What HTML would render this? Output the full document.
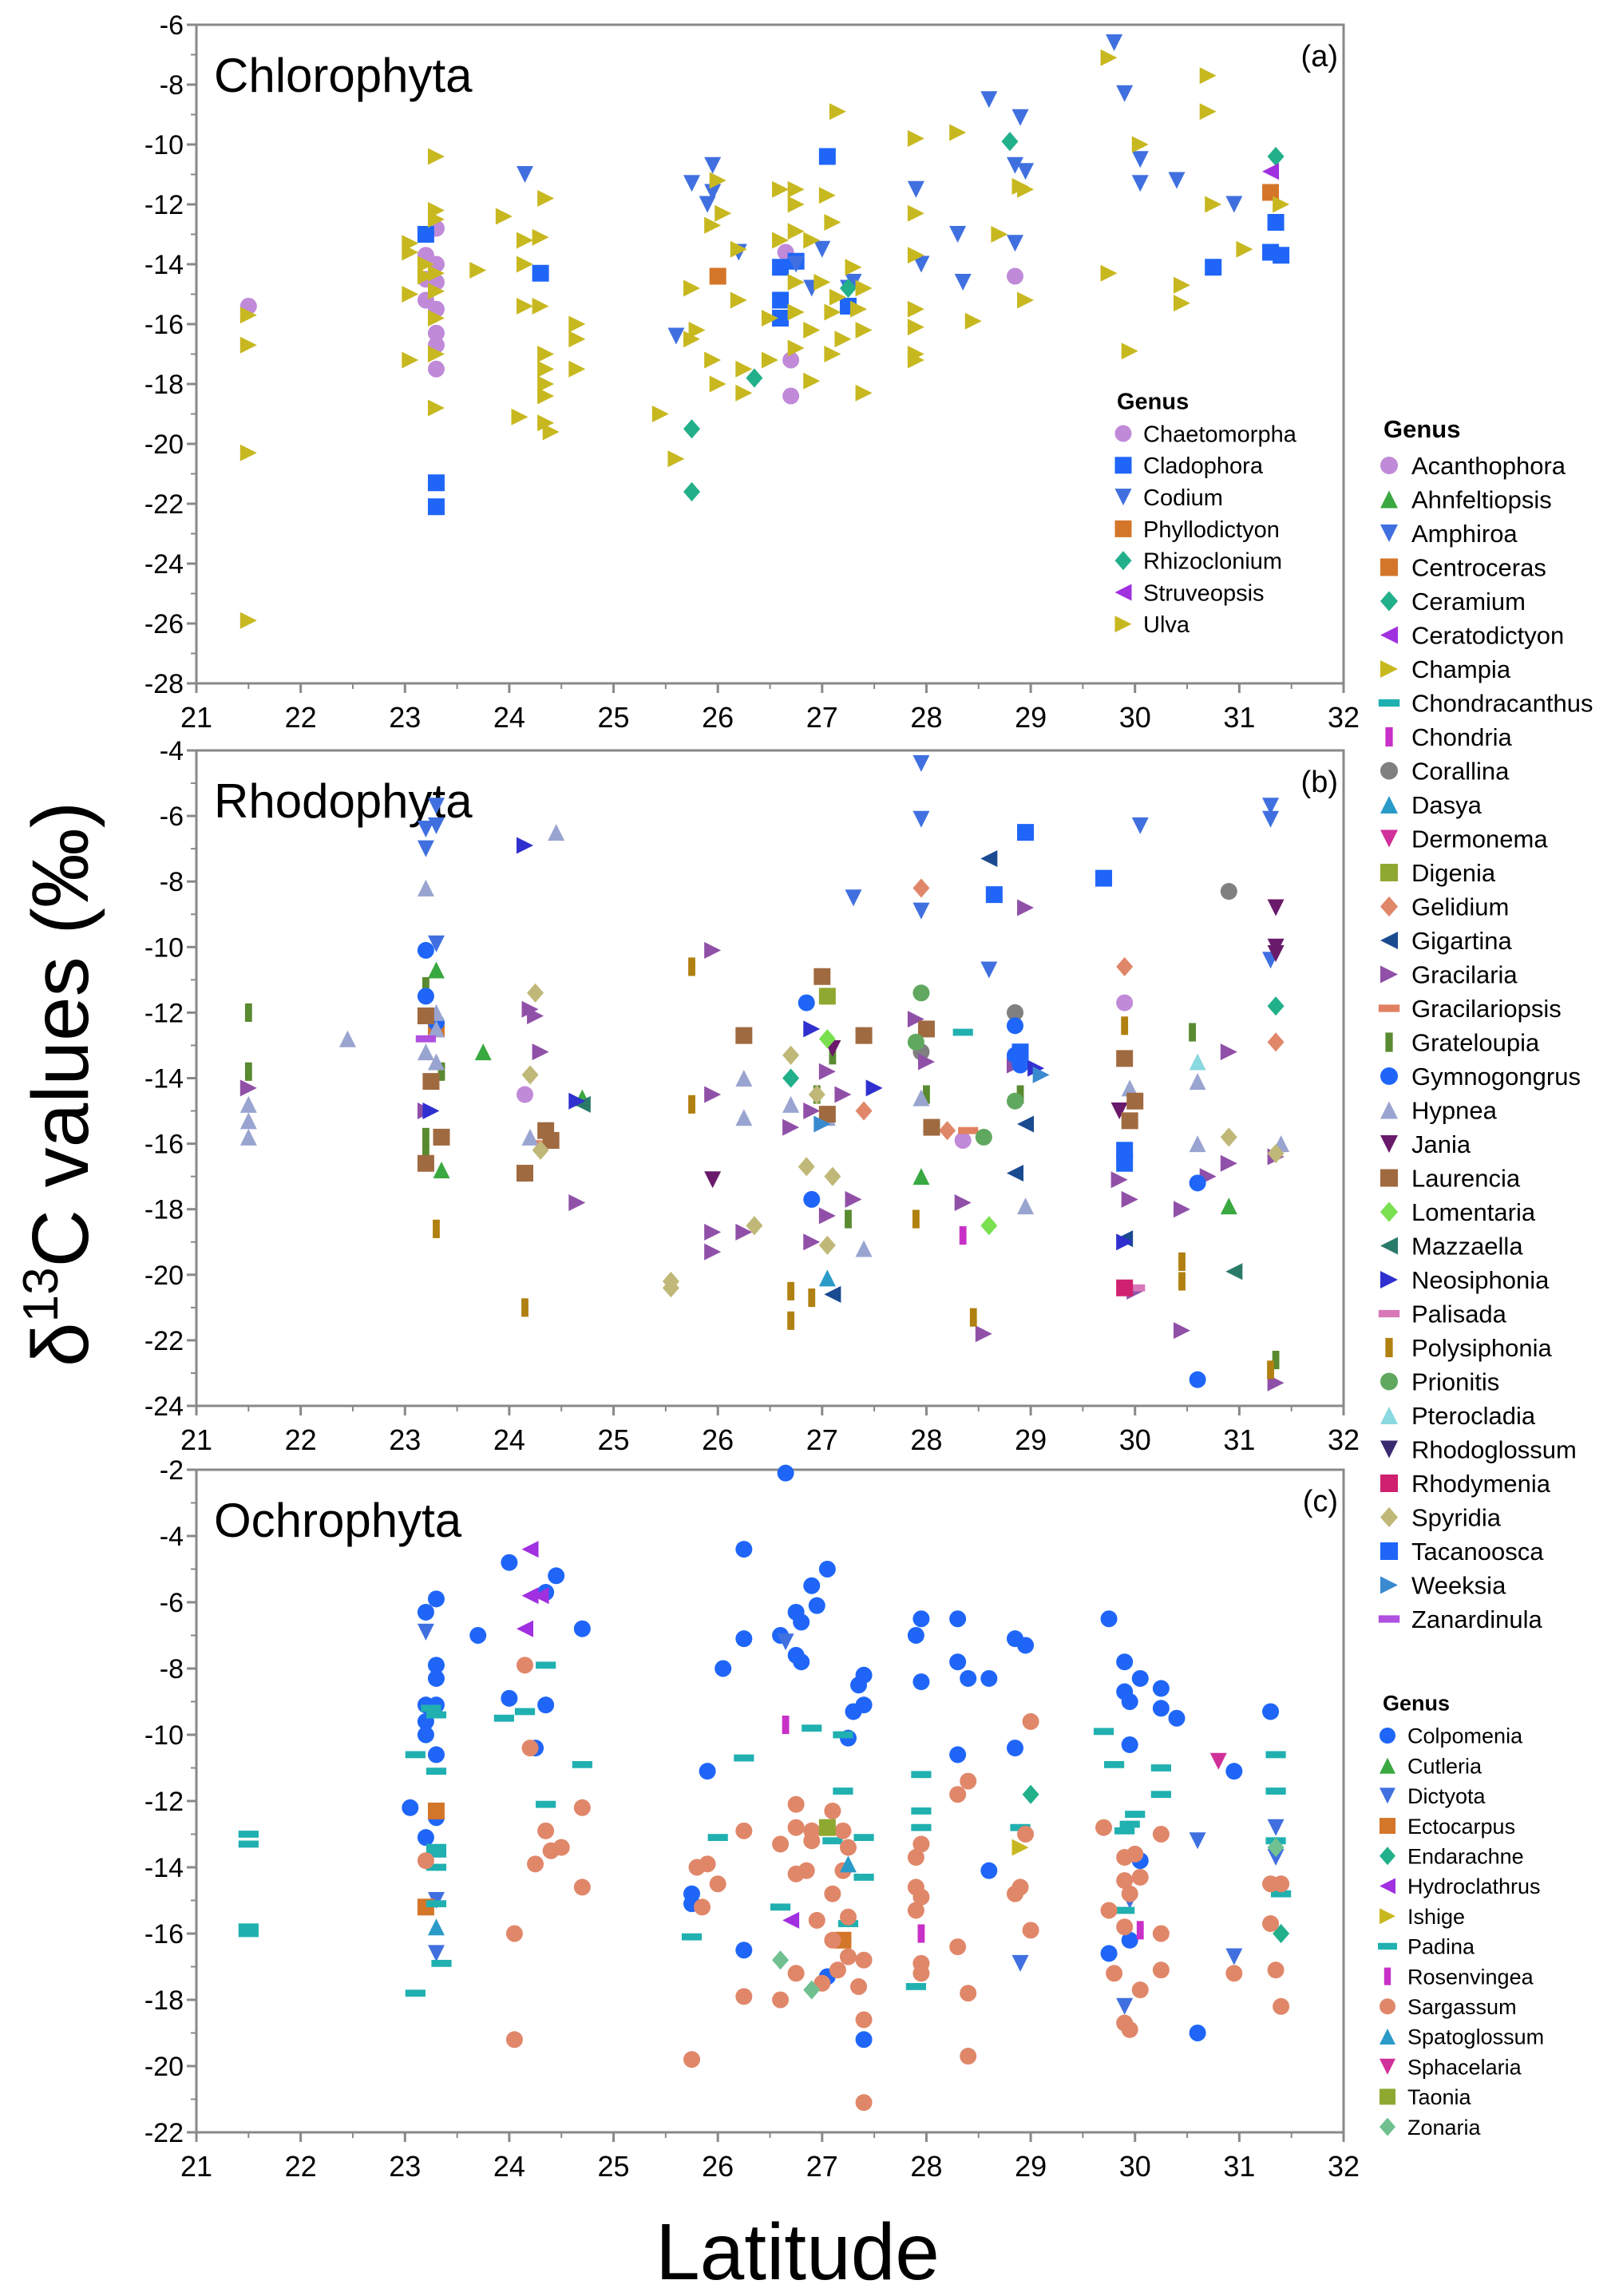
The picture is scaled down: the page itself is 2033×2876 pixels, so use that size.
<!DOCTYPE html>
<html><head><meta charset="utf-8"><style>
html,body{margin:0;padding:0;background:#fff;}
svg{display:block;font-family:"Liberation Sans",sans-serif;}
</style></head><body>
<svg id="chart" width="2033" height="2876" viewBox="0 0 2033 2876" xmlns="http://www.w3.org/2000/svg"></svg>
<script>
// ---------- DATA ----------
const xTicks = [21,22,23,24,25,26,27,28,29,30,31,32];
const yTicksA = [-6,-8,-10,-12,-14,-16,-18,-20,-22,-24,-26,-28];
const yTicksB = [-4,-6,-8,-10,-12,-14,-16,-18,-20,-22,-24];
const yTicksC = [-2,-4,-6,-8,-10,-12,-14,-16,-18,-20,-22];
const panelTitles = ["Chlorophyta","Rhodophyta","Ochrophyta"];
const panelTags = ["(a)","(b)","(c)"];

const genusA = ["Chaetomorpha","Cladophora","Codium","Phyllodictyon","Rhizoclonium","Struveopsis","Ulva"];
const pointsA = {
Chaetomorpha:[[21.5,-15.4],[23.2,-13.7],[23.3,-12.8],[23.2,-14.5],[23.3,-14],[23.3,-14.6],[23.2,-15.2],[23.3,-15.5],[23.3,-16.3],[23.3,-16.7],[23.3,-17.5],[26.65,-13.6],[26.7,-17.2],[26.7,-18.4],[28.85,-14.4]],
Cladophora:[[23.2,-13],[23.3,-21.3],[23.3,-22.1],[24.3,-14.3],[26.6,-14.1],[26.6,-15.2],[26.6,-15.8],[27.05,-10.4],[27.25,-15.4],[26.75,-13.9],[30.75,-14.1],[31.3,-13.6],[31.35,-12.6],[31.4,-13.7]],
Codium:[[24.15,-11],[25.75,-11.3],[25.9,-12],[25.95,-11.6],[25.95,-10.7],[26.2,-13.6],[25.6,-16.4],[26.75,-14],[26.9,-14.8],[27,-13.5],[27.25,-14.8],[27.3,-14.6],[27.9,-11.5],[27.95,-14],[28.3,-13],[28.35,-14.6],[28.6,-8.5],[28.85,-10.7],[28.85,-13.3],[28.9,-9.1],[28.95,-10.9],[29.8,-6.6],[29.9,-8.3],[30.05,-10.5],[30.05,-11.3],[30.4,-11.2],[30.95,-12]],
Phyllodictyon:[[26,-14.4],[31.3,-11.6]],
Rhizoclonium:[[25.75,-19.5],[25.75,-21.6],[26.35,-17.8],[27.25,-14.8],[28.8,-9.9],[31.35,-10.4]],
Struveopsis:[[31.3,-10.9]],
Ulva:[[21.5,-15.7],[21.5,-16.7],[21.5,-20.3],[21.5,-25.9],[23.05,-13.3],[23.05,-13.6],[23.05,-15],[23.05,-17.2],[23.2,-14],[23.2,-14.4],[23.3,-10.4],[23.3,-12.2],[23.3,-12.5],[23.3,-14.3],[23.3,-14.9],[23.3,-15.8],[23.3,-17],[23.3,-18.8],[23.7,-14.2],[23.95,-12.4],[24.15,-13.2],[24.15,-14],[24.15,-15.4],[24.3,-13.1],[24.3,-15.4],[24.35,-11.8],[24.35,-17],[24.35,-17.5],[24.35,-18],[24.35,-18.4],[24.35,-19.3],[24.4,-19.6],[24.1,-19.1],[24.65,-16],[24.65,-16.5],[24.65,-17.5],[25.45,-19],[25.6,-20.5],[25.75,-16.5],[25.75,-14.8],[25.8,-16.2],[25.95,-12.7],[25.95,-17.2],[26,-18],[26,-11.2],[26.05,-12.3],[26.2,-13.5],[26.2,-15.2],[26.25,-17.5],[26.25,-18.3],[26.5,-15.8],[26.5,-17.2],[26.6,-11.5],[26.6,-13.2],[26.75,-11.5],[26.75,-12],[26.75,-12.9],[26.75,-14.6],[26.75,-15.6],[26.75,-16.8],[26.9,-13.2],[26.9,-16.2],[26.9,-17.9],[27,-14.6],[27.05,-11.7],[27.1,-12.6],[27.1,-15.6],[27.1,-17],[27.15,-8.9],[27.15,-15.1],[27.2,-16.5],[27.3,-14.1],[27.4,-14.8],[27.4,-16.2],[27.4,-18.3],[27.35,-15.5],[27.9,-9.8],[27.9,-12.3],[27.9,-13.7],[27.9,-15.5],[27.9,-16.1],[27.9,-17],[27.9,-17.2],[28.3,-9.6],[28.45,-15.9],[28.7,-13],[28.9,-11.4],[28.95,-15.2],[28.95,-11.5],[29.75,-7.1],[29.75,-14.3],[29.95,-16.9],[30.05,-10],[30.45,-14.7],[30.45,-15.3],[30.7,-7.7],[30.7,-8.9],[30.75,-12],[31.05,-13.5],[31.4,-12]]
};

const genusB = ["Acanthophora","Ahnfeltiopsis","Amphiroa","Centroceras","Ceramium","Ceratodictyon","Champia","Chondracanthus","Chondria","Corallina","Dasya","Dermonema","Digenia","Gelidium","Gigartina","Gracilaria","Gracilariopsis","Grateloupia","Gymnogongrus","Hypnea","Jania","Laurencia","Lomentaria","Mazzaella","Neosiphonia","Palisada","Polysiphonia","Prionitis","Pterocladia","Rhodoglossum","Rhodymenia","Spyridia","Tacanoosca","Weeksia","Zanardinula"];
const pointsB = {
Acanthophora:[[24.15,-14.5],[29.9,-11.7],[28.35,-15.9]],
Ahnfeltiopsis:[[23.3,-10.7],[23.75,-13.2],[24.7,-14.6],[27.95,-17],[30.9,-17.9],[23.35,-16.8]],
Amphiroa:[[23.2,-6.4],[23.2,-7],[23.3,-5.7],[23.3,-6.3],[23.3,-9.9],[27.3,-8.5],[27.95,-4.4],[27.95,-6.1],[27.95,-8.9],[28.6,-10.7],[30.05,-6.3],[31.3,-5.7],[31.3,-6.1],[31.3,-10.4]],
Centroceras:[[23.3,-12.5]],
Ceramium:[[31.35,-11.8],[26.7,-14]],
Ceratodictyon:[],
Champia:[],
Chondracanthus:[[28.35,-12.6]],
Chondria:[[28.35,-18.8]],
Corallina:[[28.85,-12],[30.9,-8.3],[27.95,-13.2]],
Dasya:[[27.05,-20.1]],
Dermonema:[],
Digenia:[[27.05,-11.5]],
Gelidium:[[27.4,-15],[27.95,-8.2],[29.9,-10.6],[31.35,-12.9],[28.2,-15.6]],
Gigartina:[[28.6,-7.3],[28.95,-15.4],[28.85,-16.9],[27.1,-20.6],[29.9,-18.9]],
Gracilaria:[[21.5,-14.3],[23.2,-15],[24.2,-11.9],[24.25,-12.1],[24.3,-13.2],[24.65,-17.8],[25.95,-10.1],[25.95,-14.5],[25.95,-18.7],[25.95,-19.3],[26.25,-18.7],[26.7,-15.5],[26.9,-15],[26.9,-19],[27.05,-18.2],[27.05,-13.8],[27.2,-14.5],[27.3,-17.7],[27.9,-12.2],[28,-13.5],[28.35,-17.8],[28.55,-21.8],[28.85,-13.6],[28.95,-8.8],[29.85,-17.1],[29.95,-17.7],[30,-20.5],[30.45,-18],[30.45,-21.7],[30.7,-17],[30.9,-16.6],[30.9,-13.2],[31.35,-16.4],[31.35,-23.3]],
Gracilariopsis:[[28.4,-15.6],[24.35,-16]],
Grateloupia:[[21.5,-12],[21.5,-13.8],[23.2,-11.2],[23.2,-15.8],[23.2,-16.3],[23.35,-13.8],[26.95,-14.5],[27.1,-13.3],[27.25,-18.3],[28,-14.5],[28.9,-14.5],[30.55,-12.6],[31.35,-22.6]],
Gymnogongrus:[[23.2,-10.1],[23.2,-11.5],[23.3,-12.3],[26.85,-11.7],[26.9,-17.7],[28.85,-12.4],[28.85,-13.3],[28.9,-13.6],[30.6,-17.2],[30.6,-23.2]],
Hypnea:[[21.5,-14.8],[21.5,-15.3],[21.5,-15.8],[22.45,-12.8],[23.2,-8.2],[23.2,-13.2],[23.3,-12],[23.3,-12.5],[23.3,-13.5],[24.45,-6.5],[24.2,-15.8],[26.25,-14],[26.25,-15.2],[26.7,-14.8],[27.05,-15.2],[27.4,-19.2],[27.95,-14.6],[28.95,-17.9],[29.95,-14.3],[30.6,-14.1],[30.6,-16],[31.4,-16]],
Jania:[[25.95,-17.1],[27.1,-13.1],[29.85,-15],[31.35,-8.8],[31.35,-10],[31.35,-10.2]],
Laurencia:[[23.2,-12.1],[23.25,-14.1],[23.2,-16.6],[23.35,-15.8],[24.15,-16.9],[24.35,-15.6],[24.4,-15.9],[26.25,-12.7],[27,-10.9],[27.05,-15.1],[27.4,-12.7],[28,-12.5],[28.05,-15.5],[29.9,-13.4],[30,-14.7],[29.95,-15.3]],
Lomentaria:[[27.05,-12.8],[28.6,-18.5]],
Mazzaella:[[30.95,-19.9],[24.7,-14.8]],
Neosiphonia:[[24.15,-6.9],[24.65,-14.7],[26.9,-12.5],[29.05,-13.7],[23.25,-15],[27.5,-14.3],[29.9,-19]],
Palisada:[[30,-20.4]],
Polysiphonia:[[23.3,-18.6],[24.15,-21],[25.75,-10.6],[25.75,-14.8],[26.7,-20.5],[26.7,-21.4],[26.9,-20.7],[27.9,-18.3],[28.45,-21.3],[29.9,-12.4],[30.45,-19.6],[30.45,-20.2],[31.3,-22.9]],
Prionitis:[[27.95,-11.4],[28.55,-15.8],[28.85,-14.7],[27.9,-12.9]],
Pterocladia:[[30.6,-13.5]],
Rhodoglossum:[],
Rhodymenia:[[29.9,-20.4]],
Spyridia:[[24.2,-13.9],[24.25,-11.4],[24.3,-16.2],[25.55,-20.2],[25.55,-20.4],[26.35,-18.5],[26.7,-13.3],[26.85,-16.7],[26.95,-14.5],[27.05,-19.1],[27.1,-17],[30.9,-15.8],[31.35,-16.3]],
Tacanoosca:[[28.65,-8.4],[28.95,-6.5],[29.7,-7.9],[29.9,-16.2],[29.9,-16.6],[28.9,-13.2]],
Weeksia:[[29.1,-13.9],[27,-15.4]],
Zanardinula:[[23.2,-12.8]]
};

const genusC = ["Colpomenia","Cutleria","Dictyota","Ectocarpus","Endarachne","Hydroclathrus","Ishige","Padina","Rosenvingea","Sargassum","Spatoglossum","Sphacelaria","Taonia","Zonaria"];
const pointsC = {
Colpomenia:[[23.05,-12.2],[23.2,-6.3],[23.3,-5.9],[23.3,-7.9],[23.3,-8.3],[23.2,-9.1],[23.2,-9.6],[23.2,-10],[23.3,-9.1],[23.3,-10.6],[23.2,-13.1],[23.3,-12.5],[23.7,-7],[24,-4.8],[24,-8.9],[24.25,-10.4],[24.35,-5.7],[24.45,-5.2],[24.35,-9.1],[24.7,-6.8],[25.75,-14.8],[25.75,-15.1],[25.9,-11.1],[26.05,-8],[26.25,-4.4],[26.25,-7.1],[26.25,-16.5],[26.6,-7],[26.65,-2.1],[26.75,-6.3],[26.75,-7.6],[26.8,-7.8],[26.8,-6.6],[26.9,-5.5],[26.95,-6.1],[27.05,-5],[27.05,-17.3],[27.25,-10.1],[27.3,-9.3],[27.35,-8.5],[27.4,-8.2],[27.4,-9.1],[27.4,-19.2],[27.9,-7],[27.95,-6.5],[27.95,-8.4],[28.3,-6.5],[28.3,-7.8],[28.3,-10.6],[28.4,-8.3],[28.6,-8.3],[28.6,-14.1],[28.85,-7.1],[28.85,-10.4],[28.95,-7.3],[29.75,-6.5],[29.75,-16.6],[29.9,-7.8],[29.9,-8.7],[29.95,-9],[29.95,-10.3],[29.95,-16.2],[30.05,-8.3],[30.05,-13.8],[30.25,-8.6],[30.25,-9.2],[30.4,-9.5],[30.6,-19],[30.95,-11.1],[31.3,-9.3]],
Cutleria:[],
Dictyota:[[23.2,-6.9],[23.3,-15],[23.3,-16.6],[26.65,-7.2],[28.9,-16.9],[29.9,-18.2],[29.95,-15],[30.6,-13.2],[30.95,-16.7],[31.35,-12.8],[31.35,-13.7]],
Ectocarpus:[[23.2,-15.2],[23.3,-12.3],[27.2,-16.2]],
Endarachne:[[29,-11.8],[31.4,-16]],
Hydroclathrus:[[24.2,-4.4],[24.2,-5.8],[24.15,-6.8],[26.7,-15.6],[24.3,-5.8]],
Ishige:[[28.9,-13.4]],
Padina:[[21.5,-13],[21.5,-13.3],[21.5,-15.8],[21.5,-16],[23.1,-10.6],[23.1,-17.8],[23.25,-9.2],[23.3,-9.4],[23.3,-11.1],[23.3,-13.4],[23.3,-14],[23.3,-15.1],[23.35,-16.9],[23.3,-13.6],[23.95,-9.5],[24.15,-9.3],[24.35,-7.9],[24.35,-12.1],[24.7,-10.9],[25.75,-16.1],[26,-13.1],[26.25,-10.7],[26.6,-15.2],[26.9,-9.8],[27.2,-10],[27.2,-11.7],[27.1,-13.2],[27.25,-15.7],[27.4,-13.1],[27.4,-14.3],[27.95,-11.2],[27.95,-12.3],[27.95,-12.8],[27.9,-17.6],[28.9,-12.8],[29.7,-9.9],[29.8,-10.9],[29.9,-12.9],[29.95,-12.7],[29.9,-15.3],[30,-12.4],[30.25,-11.8],[30.25,-11],[31.35,-10.6],[31.35,-11.7],[31.35,-13.2],[31.4,-14.8]],
Rosenvingea:[[26.65,-9.7],[27.95,-16],[30.05,-15.9]],
Sargassum:[[23.2,-13.8],[24.05,-16],[24.05,-19.2],[24.15,-7.9],[24.2,-10.4],[24.25,-13.9],[24.35,-12.9],[24.4,-13.5],[24.5,-13.4],[24.7,-12.2],[24.7,-14.6],[25.75,-19.8],[25.8,-14],[25.85,-15.2],[25.9,-13.9],[26,-14.5],[26.25,-12.9],[26.25,-17.9],[26.6,-13.3],[26.6,-18],[26.75,-12.1],[26.75,-12.8],[26.75,-14.2],[26.75,-17.2],[26.85,-14.1],[26.9,-12.9],[26.9,-13.2],[26.95,-15.6],[27,-17.5],[27.1,-12.3],[27.1,-14.8],[27.1,-16.2],[27.15,-17.1],[27.2,-14.1],[27.2,-12.9],[27.25,-13.4],[27.25,-15.5],[27.25,-16.7],[27.35,-17.6],[27.4,-18.6],[27.4,-21.1],[27.4,-16.8],[27.95,-13.3],[27.9,-13.7],[27.9,-14.6],[27.9,-15.3],[27.95,-16.9],[27.95,-17.2],[27.95,-14.9],[28.3,-11.8],[28.4,-11.4],[28.3,-16.4],[28.4,-19.7],[28.4,-17.8],[28.85,-14.8],[28.9,-14.6],[28.95,-13],[29,-9.6],[29,-15.9],[29.7,-12.8],[29.75,-15.3],[29.8,-17.2],[29.9,-13.7],[29.9,-14.4],[29.95,-14.8],[29.9,-15.8],[29.9,-18.7],[29.95,-18.9],[30,-13.6],[30.05,-14.3],[30.05,-17.7],[30.25,-13],[30.25,-16],[30.25,-17.1],[30.95,-17.2],[31.3,-14.5],[31.3,-15.7],[31.35,-17.1],[31.4,-18.2],[31.4,-14.5]],
Spatoglossum:[[23.3,-15.8],[27.25,-13.9]],
Sphacelaria:[[30.8,-10.8]],
Taonia:[[27.05,-12.8]],
Zonaria:[[26.6,-16.8],[26.9,-17.7],[31.35,-13.4]]
};

// ---------- STYLES ----------
const STY = {
Chaetomorpha:["circle","#c08ad8"],Cladophora:["square","#1f66f8"],Codium:["down","#4070e0"],Phyllodictyon:["square","#d4762a"],Rhizoclonium:["diamond","#22b08a"],Struveopsis:["left","#a030e0"],Ulva:["right","#c8b820"],
Acanthophora:["circle","#c08ad8"],Ahnfeltiopsis:["up","#3aa840"],Amphiroa:["down","#4070e0"],Centroceras:["square","#d4762a"],Ceramium:["diamond","#22b08a"],Ceratodictyon:["left","#a030e0"],Champia:["right","#c8b820"],Chondracanthus:["hbar","#20b0b0"],Chondria:["vbar","#c830c8"],Corallina:["circle","#808080"],Dasya:["up","#2a9ac8"],Dermonema:["down","#d0309a"],Digenia:["square","#8fa830"],Gelidium:["diamond","#e0876a"],Gigartina:["left","#1a4a90"],Gracilaria:["right","#9050a8"],Gracilariopsis:["hbar","#e08060"],Grateloupia:["vbar","#5a8a30"],Gymnogongrus:["circle","#1f66f8"],Hypnea:["up","#99a4d0"],Jania:["down","#6a1a6a"],Laurencia:["square","#a06a40"],Lomentaria:["diamond","#7ae050"],Mazzaella:["left","#2a7a6a"],Neosiphonia:["right","#3030d0"],Palisada:["hbar","#d878b8"],Polysiphonia:["vbar","#b08010"],Prionitis:["circle","#60a860"],Pterocladia:["up","#8ad8e0"],Rhodoglossum:["down","#3a2a70"],Rhodymenia:["square","#d02070"],Spyridia:["diamond","#c0b878"],Tacanoosca:["square","#1f66f8"],Weeksia:["right","#3a8ad0"],Zanardinula:["hbar","#b050e0"],
Colpomenia:["circle","#1f66f8"],Cutleria:["up","#3aa840"],Dictyota:["down","#4070e0"],Ectocarpus:["square","#d4762a"],Endarachne:["diamond","#22b08a"],Hydroclathrus:["left","#a030e0"],Ishige:["right","#c8b820"],Padina:["hbar","#20b0b0"],Rosenvingea:["vbar","#c830c8"],Sargassum:["circle","#e0876a"],Spatoglossum:["up","#2a9ac8"],Sphacelaria:["down","#d0309a"],Taonia:["square","#8fa830"],Zonaria:["diamond","#70c090"]
};

// ---------- DRAW ----------
const NS="http://www.w3.org/2000/svg";
const svg=document.getElementById('chart');
function mk(tag,attrs,parent){const e=document.createElementNS(NS,tag);for(const k in attrs)e.setAttribute(k,attrs[k]);(parent||svg).appendChild(e);return e;}
const X0=246,X1=1683;
function xs(lat){return X0+(lat-21)/(32-21)*(X1-X0);}
function marker(shape,color,cx,cy,s,parent){
  const h=s/2;let e;
  if(shape==="circle") e=mk('ellipse',{cx:cx,cy:cy,rx:h,ry:h,fill:color},parent);
  else if(shape==="square") e=mk('rect',{x:cx-h,y:cy-h,width:s,height:s,fill:color},parent);
  else if(shape==="hbar") e=mk('rect',{x:cx-h*1.2,y:cy-h*0.42,width:s*1.2,height:s*0.42,fill:color},parent);
  else if(shape==="vbar") e=mk('rect',{x:cx-h*0.42,y:cy-h*1.1,width:s*0.42,height:s*1.1,fill:color},parent);
  else {
    let p;
    if(shape==="up") p=[[cx,cy-h],[cx+h,cy+h],[cx-h,cy+h]];
    else if(shape==="down") p=[[cx-h,cy-h],[cx+h,cy-h],[cx,cy+h]];
    else if(shape==="left") p=[[cx-h,cy],[cx+h,cy-h],[cx+h,cy+h]];
    else if(shape==="right") p=[[cx+h,cy],[cx-h,cy-h],[cx-h,cy+h]];
    else p=[[cx,cy-h*1.15],[cx+h,cy],[cx,cy+h*1.15],[cx-h,cy]];
    e=mk('polygon',{points:p.map(q=>q.join(',')).join(' '),fill:color},parent);
  }
  return e;
}

const panels=[
 {top:31,bot:856,ymax:-6,ymin:-28,ticks:yTicksA,genus:genusA,pts:pointsA,titleY:115,name:"chlorophyta"},
 {top:940,bot:1761,ymax:-4,ymin:-24,ticks:yTicksB,genus:genusB,pts:pointsB,titleY:1024,name:"rhodophyta"},
 {top:1841,bot:2671,ymax:-2,ymin:-22,ticks:yTicksC,genus:genusC,pts:pointsC,titleY:1925,name:"ochrophyta"}
];

panels.forEach((P,pi)=>{
  const g=mk('g',{});
  
  
  const ys=v=>P.top+(P.ymax-v)/(P.ymax-P.ymin)*(P.bot-P.top);
  const fr=mk('rect',{x:X0,y:P.top,width:X1-X0,height:P.bot-P.top,fill:'none',stroke:'#888',"stroke-width":3},g);
  
  
  P.ticks.forEach(t=>{
    const y=ys(t);
    mk('line',{x1:X0-12,x2:X0,y1:y,y2:y,stroke:'#888',"stroke-width":3},g);
    if(t!==P.ymin){const ym=ys(t-1);mk('line',{x1:X0-7,x2:X0,y1:ym,y2:ym,stroke:'#888',"stroke-width":2},g);}
    const tx=mk('text',{x:X0-16,y:y+12,"text-anchor":"end","font-size":34,fill:'#000'},g);
    tx.textContent=t;
    
    
  });
  xTicks.forEach(t=>{
    const x=xs(t);
    mk('line',{x1:x,x2:x,y1:P.bot,y2:P.bot+12,stroke:'#888',"stroke-width":3},g);
    if(t<32){const xm=xs(t+0.5);mk('line',{x1:xm,x2:xm,y1:P.bot,y2:P.bot+7,stroke:'#888',"stroke-width":2},g);}
    const tx=mk('text',{x:x,y:P.bot+55,"text-anchor":"middle","font-size":36,fill:'#000'},g);
    tx.textContent=t;
    
    
  });
  const tt=mk('text',{x:268,y:P.titleY,"font-size":60,fill:'#000'},g);
  tt.textContent=panelTitles[pi];
  
  
  const tg=mk('text',{x:1676,y:P.top+52,"text-anchor":"end","font-size":38,fill:'#000'},g);
  tg.textContent=panelTags[pi];
  
  
  P.genus.forEach(gn=>{
    const [shape,color]=STY[gn];
    (P.pts[gn]||[]).forEach(pt=>{
      const m=marker(shape,color,xs(pt[0]),ys(pt[1]),21,g);
      
      
    });
  });
});

function legend(genus,hx,hy,mx,tx,y0,dy,fs,ms,name){
  const g=mk('g',{});
  
  
  const h=mk('text',{x:hx,y:hy+fs*0.36,"font-size":fs,"font-weight":"bold",fill:'#000'},g);
  h.textContent="Genus";
  
  
  genus.forEach((gn,i)=>{
    const y=y0+i*dy;const [shape,color]=STY[gn];
    const m=marker(shape,color,mx,y,ms,g);
    
    
    const t=mk('text',{x:tx,y:y+fs*0.36,"font-size":fs,fill:'#000'},g);
    t.textContent=gn;
    
    
  });
}
legend(genusA,1399,502,1407,1432,543,39.8,29,21,'legend-chlorophyta');
legend(genusB,1733,537,1740,1768,583,42.5,31,22,'legend-rhodophyta');
legend(genusC,1732,2133,1738,1763,2174,37.7,27,20,'legend-ochrophyta');

const yt=mk('text',{x:0,y:0,"font-size":100,fill:'#000',"text-anchor":"middle",transform:"translate(110,1358) rotate(-90)"});
yt.innerHTML='δ<tspan dy="-38" font-size="62">13</tspan><tspan dy="38">C values (‰)</tspan>';


const xt=mk('text',{x:999,y:2855,"font-size":100,fill:'#000',"text-anchor":"middle"});
xt.textContent="Latitude";


</script>
</body></html>
